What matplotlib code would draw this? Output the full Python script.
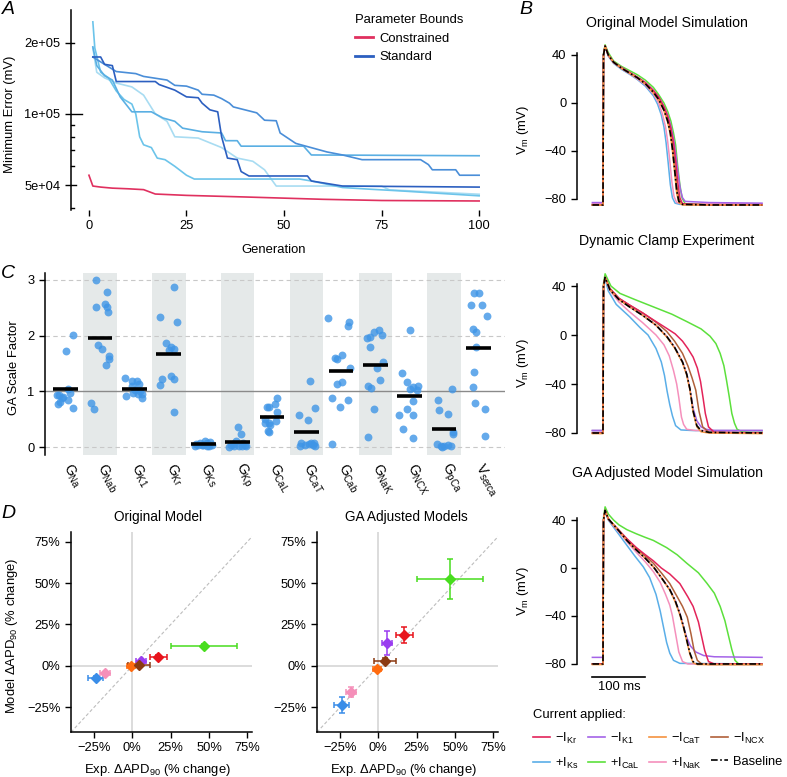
import matplotlib
matplotlib.use('Agg')
import numpy as np
import matplotlib.pyplot as plt
from matplotlib.lines import Line2D

plt.rcParams['font.family'] = ['Liberation Sans', 'DejaVu Sans']
plt.rcParams['mathtext.fontset'] = 'custom'
plt.rcParams['mathtext.rm'] = 'Liberation Sans'
plt.rcParams['mathtext.it'] = 'Liberation Sans:italic'
plt.rcParams['mathtext.bf'] = 'Liberation Sans:bold'
plt.rcParams['axes.linewidth'] = 1.1

# ---------------- Panel A: GA convergence ----------------
gen_con = [0, 1, 3, 6, 10, 14, 17, 25, 40, 50, 60, 75, 100]
err_con = [5.5e4, 4.95e4, 4.9e4, 4.85e4, 4.82e4, 4.78e4, 4.58e4, 4.52e4, 4.45e4, 4.4e4, 4.35e4, 4.3e4, 4.28e4]

gen_std1 = [1, 2, 4, 6, 8, 11, 16, 19, 22, 24, 29, 34, 35, 38, 39, 55, 57, 100]
err_std1 = [1.92e5, 1.6e5, 1.45e5, 1.39e5, 1.18e5, 1.02e5, 1.02e5, 9.6e4, 9.3e4, 8.7e4, 8.4e4, 8.3e4,
            7.7e4, 7.7e4, 7.3e4, 7.3e4, 6.7e4, 6.65e4]
gen_std2 = [1, 4, 7, 12, 14, 20, 22, 25, 28, 29, 32, 34, 36, 37, 43, 45, 48, 49, 53, 61, 65, 70, 85,
            87, 88, 94, 95, 100]
err_std2 = [1.74e5, 1.62e5, 1.51e5, 1.48e5, 1.44e5, 1.39e5, 1.32e5, 1.31e5, 1.26e5, 1.21e5, 1.2e5,
            1.16e5, 1.11e5, 1.07e5, 1.01e5, 9.4e4, 9.35e4, 8.3e4, 7.5e4, 6.9e4, 6.7e4, 6.4e4, 6.4e4,
            6.1e4, 5.8e4, 5.8e4, 5.5e4, 5.5e4]
gen_std3 = [1, 3, 4, 6, 7, 17, 18, 22, 25, 28, 29, 31, 33, 34, 35.5, 38, 39, 41, 56, 57, 65, 100]
err_std3 = [1.74e5, 1.74e5, 1.62e5, 1.6e5, 1.37e5, 1.37e5, 1.33e5, 1.26e5, 1.18e5, 1.17e5, 1.11e5,
            1.04e5, 1.02e5, 8.0e4, 6.5e4, 6.4e4, 5.7e4, 5.46e4, 5.46e4, 5.2e4, 4.95e4, 4.9e4]
gen_std4 = [1, 1.5, 3, 5, 7, 9, 11, 12, 13, 14, 16, 17.5, 19.5, 22, 25, 27, 54, 57, 65, 72, 80, 100]
err_std4 = [2.45e5, 1.9e5, 1.5e5, 1.42e5, 1.25e5, 1.15e5, 1.1e5, 1.0e5, 8.0e4, 7.4e4, 7.2e4, 6.5e4,
            6.4e4, 6.0e4, 5.5e4, 5.3e4, 5.3e4, 5.2e4, 4.88e4, 4.8e4, 4.72e4, 4.5e4]
gen_std5 = [1, 2, 4, 7, 11, 14, 17, 20, 22, 28, 34, 38, 42, 45, 46, 48, 75, 77, 100]
err_std5 = [1.9e5, 1.5e5, 1.42e5, 1.35e5, 1.3e5, 1.2e5, 1.0e5, 9.3e4, 8.0e4, 7.9e4, 7.2e4, 6.5e4,
            6.3e4, 5.8e4, 5.5e4, 4.95e4, 4.95e4, 4.77e4, 4.57e4]

# ---------------- Panel B: action potentials ----------------
# Original model simulation
t_o_base = [-20, 0, 1, 4, 10, 20, 35, 50, 65, 80, 95, 105, 115, 122, 127, 131, 135, 139, 143, 150, 200, 300]
v_o_base = [-85, -85, 40, 47.5, 40, 34, 29, 25, 21, 16, 9, 3, -6, -15, -25, -38, -55, -73, -82, -84.5, -85, -85]
t_o_cat = [-20, 0, 1, 4, 10, 20, 35, 50, 65, 80, 95, 105, 115, 122, 127, 131, 135, 139, 143, 150, 200, 300]
v_o_cat = [-85, -85, 40, 47.5, 40, 34, 29, 25, 21, 16, 8.5, 2.5, -6.5, -16, -26, -40, -57, -75, -83, -85, -85, -85]
t_o_cal = [-20, 0, 1, 4, 10, 20, 35, 50, 65, 80, 95, 105, 115, 122, 128, 133, 137, 141, 145, 149, 155, 200, 300]
v_o_cal = [-85, -85, 41, 48.5, 42, 35, 30.5, 27, 23.5, 19, 13, 7, 0, -7, -15, -25, -35, -53, -68, -79, -84, -85, -85]
t_o_ks = [-20, 0, 1, 4, 10, 20, 35, 50, 65, 80, 95, 103, 110, 115, 119, 123, 127, 131, 136, 145, 200, 300]
v_o_ks = [-85, -85, 40, 47, 39, 33, 28, 24, 19.5, 14, 6, -1, -10, -20, -33, -50, -68, -79, -83.5, -84.5, -85, -85]
t_o_nak = [-20, 0, 1, 4, 10, 20, 35, 50, 65, 80, 95, 105, 112, 118, 122, 126, 130, 134, 139, 148, 200, 300]
v_o_nak = [-84, -84, 40, 47, 39.5, 33.5, 28.5, 24.5, 20, 15, 7.5, 0, -9, -20, -32, -48, -66, -78, -83, -84, -84, -84]
t_o_kr = [-20, 0, 1, 4, 10, 20, 35, 50, 65, 80, 95, 105, 115, 122, 128, 133, 137, 141, 145, 150, 200, 300]
v_o_kr = [-85, -85, 40, 47.5, 40, 34, 29.5, 25.5, 21.5, 17, 10.5, 5, -3, -11, -21, -33, -48, -66, -79, -84, -85, -85]
t_o_k1 = [-20, 0, 1, 4, 10, 20, 35, 50, 65, 80, 95, 105, 115, 122, 128, 134, 138, 142, 146, 150, 155, 200, 300]
v_o_k1 = [-83, -83, 40, 47.5, 40, 34, 29.5, 25.5, 21.5, 17, 10.5, 5, -3, -10, -19, -32, -45, -60, -72, -79, -82, -83, -83.5]
t_o_ncx = [-20, 0, 1, 4, 10, 20, 35, 50, 65, 80, 95, 105, 115, 122, 128, 132, 136, 140, 144, 150, 200, 300]
v_o_ncx = [-85, -85, 40, 47.5, 40, 34, 29, 25, 21, 16, 9.5, 3.5, -5, -14, -24, -37, -54, -72, -81, -84.5, -85, -85]

# Dynamic clamp experiment
t_d_base = [-20, 0, 1, 4, 13, 30, 50, 75, 100, 120, 135, 150, 158, 164, 170, 177, 185, 200, 300]
v_d_base = [-80, -80, 40, 47, 37, 29, 23, 16, 8, -1, -10, -22, -32, -44, -62, -74, -78, -79.5, -80]
t_d_cat = [-20, 0, 1, 4, 13, 30, 50, 75, 100, 120, 135, 150, 158, 164, 170, 177, 185, 200, 300]
v_d_cat = [-80.5, -80.5, 40, 47, 37, 29, 23, 16, 8, -1.5, -10.5, -22.5, -33, -45, -63, -75, -79, -80, -80.5]
t_d_k1 = [-20, 0, 1, 4, 13, 30, 50, 75, 100, 120, 135, 150, 158, 164, 170, 177, 185, 195, 210, 300]
v_d_k1 = [-78, -78, 40, 47, 37, 29, 23, 16, 8, -1, -10, -22, -32, -44, -60, -70, -75, -77, -78, -78]
t_d_ncx = [-20, 0, 1, 4, 13, 30, 50, 75, 100, 120, 135, 150, 160, 168, 175, 181, 188, 200, 300]
v_d_ncx = [-80, -80, 40, 47, 38, 30, 24.5, 18, 10.5, 3, -5, -15, -25, -35, -45, -62, -75, -79.5, -80]
t_d_kr = [-20, 0, 1, 4, 13, 30, 50, 75, 100, 120, 136, 150, 160, 170, 178, 184, 189, 193, 199, 210, 300]
v_d_kr = [-80, -80, 40, 47, 38, 30, 24.5, 18, 11, 5.5, 1, -5, -11, -18, -27, -38, -52, -64, -75, -79.5, -80]
t_d_ks = [-20, 0, 1, 4, 10, 25, 50, 70, 85, 100, 110, 116, 121, 126, 131, 137, 147, 170, 300]
v_d_ks = [-78, -78, 40, 46, 36, 25, 15, 6, 0, -11, -22, -33, -46, -57, -66, -74, -77.5, -78, -78]
t_d_nak = [-20, 0, 1, 4, 12, 30, 50, 75, 100, 115, 125, 133, 139, 143, 148, 152, 158, 175, 300]
v_d_nak = [-78, -78, 40, 47, 37, 27, 19, 10, 0, -8, -17, -29, -40, -51, -67, -73, -77, -78, -78]
t_d_cal = [-20, 0, 1, 4, 15, 32, 60, 95, 130, 158, 185, 202, 213, 221, 228, 233, 238, 243, 248, 253,
           262, 280, 300]
v_d_cal = [-80, -80, 42, 50, 40, 34, 29, 23, 17, 11, 5, -1, -7, -15, -25, -37, -50, -64, -72, -77,
           -79, -79.5, -79.5]

# GA adjusted model simulation
t_g_base = [-20, 0, 1, 4, 10, 20, 30, 45, 63, 80, 95, 110, 126, 136, 145, 152, 158, 164, 170, 178, 190, 300]
v_g_base = [-80, -80, 40, 48, 41, 36, 31, 23, 15, 8, 1, -8, -18, -27, -38, -49, -60, -71, -78, -80, -80, -80]
t_g_cat = [-20, 0, 1, 4, 10, 20, 30, 45, 63, 80, 95, 110, 126, 136, 145, 152, 158, 164, 170, 178, 190, 300]
v_g_cat = [-80.5, -80.5, 40, 48, 41, 36, 31, 23, 15, 8, 1, -8, -18.5, -28, -39, -50, -61, -72, -79, -80.5, -80.5, -80.5]
t_g_ncx = [-20, 0, 1, 4, 10, 20, 30, 45, 63, 80, 95, 110, 126, 140, 150, 159, 166, 172, 178, 186, 200, 300]
v_g_ncx = [-80, -80, 40, 48, 41, 36, 31.5, 24, 16.5, 10, 4, -4, -13, -24, -32, -41, -55, -69, -77, -80, -80.5, -80.5]
t_g_kr = [-20, 0, 1, 4, 10, 20, 30, 45, 63, 80, 95, 110, 126, 145, 160, 170, 180, 186, 192, 199, 210, 300]
v_g_kr = [-80, -80, 40, 48, 41, 36, 31.5, 24.5, 17, 11, 6, 0, -5, -13, -24, -32, -45, -57, -69, -78, -80, -80]
t_g_k1 = [-20, 0, 1, 4, 10, 20, 30, 45, 63, 80, 95, 110, 126, 136, 145, 152, 158, 165, 175, 190, 210, 300]
v_g_k1 = [-74.5, -74.5, 40, 48, 41, 36, 31, 23, 15, 8, 1, -8, -18, -27, -38, -49, -58, -65, -70, -73, -74, -74.5]
t_g_ks = [-20, 0, 1, 4, 10, 20, 30, 45, 60, 76, 88, 100, 108, 114, 120, 126, 133, 145, 300]
v_g_ks = [-80, -80, 40, 47, 40, 34, 28, 19, 10, 1, -8, -22, -36, -49, -62, -71, -77, -79.5, -80]
t_g_nak = [-20, 0, 1, 4, 10, 20, 30, 45, 63, 80, 95, 108, 118, 126, 131, 137, 143, 150, 160, 300]
v_g_nak = [-80, -80, 40, 47.5, 40.5, 35, 30, 22, 13, 5, -3, -12, -22, -31, -40, -55, -70, -78, -80, -80]
t_g_cal = [-20, 0, 1, 4, 10, 20, 30, 45, 63, 80, 95, 120, 140, 158, 180, 196, 210, 221, 230, 237, 243,
           249, 256, 300]
v_g_cal = [-80, -80, 42, 51, 45, 40, 36, 32, 28.5, 25.5, 23, 17, 11, 4, -4, -12.7, -21, -32, -44, -57,
           -68, -77, -80, -80]

# ---------------- Panel C: GA scale factors ----------------
c_names = ['Na', 'Nab', 'K1', 'Kr', 'Ks', 'Kp', 'CaL', 'CaT', 'Cab', 'NaK', 'NCX', 'pCa', 'serca']
c_vals = [
    [2.02, 1.73, 1.04, 0.97, 0.94, 0.91, 0.88, 0.84, 0.82, 0.78, 0.71, 0.93],
    [2.99, 2.78, 2.57, 2.52, 2.51, 2.42, 1.83, 1.77, 1.64, 1.58, 1.47, 0.79, 0.69],
    [1.24, 1.18, 1.18, 1.13, 1.09, 1.03, 1.0, 0.97, 0.96, 0.95, 0.92, 0.89],
    [2.87, 2.34, 2.25, 1.87, 1.8, 1.77, 1.75, 1.27, 1.23, 1.22, 1.11, 0.64],
    [0.12, 0.1, 0.08, 0.07, 0.06, 0.05, 0.05, 0.04, 0.04, 0.03, 0.03, 0.02],
    [0.36, 0.23, 0.12, 0.08, 0.06, 0.05, 0.04, 0.03, 0.03, 0.02, 0.02, 0.01],
    [0.89, 0.78, 0.73, 0.72, 0.63, 0.5, 0.47, 0.44, 0.43, 0.4, 0.3, 0.27],
    [1.19, 0.7, 0.57, 0.49, 0.08, 0.08, 0.07, 0.06, 0.05, 0.04, 0.03, 0.02],
    [2.32, 2.25, 2.17, 1.65, 1.6, 1.58, 1.43, 1.17, 1.14, 0.88, 0.85, 0.73, 0.06],
    [2.1, 2.07, 2.02, 1.97, 1.95, 1.8, 1.53, 1.43, 1.21, 1.1, 1.07, 0.68, 0.18],
    [2.1, 1.33, 1.17, 1.1, 1.08, 1.05, 1.03, 0.83, 0.68, 0.57, 0.57, 0.32, 0.17],
    [1.05, 0.84, 0.67, 0.6, 0.28, 0.23, 0.06, 0.04, 0.03, 0.02, 0.02, 0.01],
    [2.77, 2.77, 2.55, 2.55, 2.36, 2.12, 2.06, 1.8, 1.35, 1.08, 0.8, 0.68, 0.2],
]
c_jitter = [
    [0.2, 0.0, 0.08, 0.13, -0.26, -0.07, -0.12, 0.08, -0.17, -0.21, 0.2, -0.2],
    [-0.12, 0.19, 0.15, -0.13, 0.21, 0.23, -0.05, 0.05, 0.27, 0.25, 0.17, -0.27, -0.19],
    [-0.27, -0.08, 0.07, 0.12, -0.08, 0.02, 0.17, -0.03, 0.09, 0.21, -0.24, 0.21],
    [0.14, -0.25, 0.23, -0.08, 0.06, 0.14, -0.01, 0.06, -0.2, 0.16, -0.25, 0.14],
    [0.05, 0.2, -0.1, 0.12, -0.22, 0.0, -0.15, 0.25, -0.05, 0.1, -0.25, 0.18],
    [0.0, 0.09, -0.05, 0.15, -0.15, 0.22, -0.2, 0.05, 0.25, -0.1, 0.12, -0.25],
    [0.14, 0.09, -0.16, -0.08, 0.14, -0.2, 0.1, -0.22, -0.1, -0.05, -0.12, -0.08],
    [0.1, 0.25, -0.23, 0.03, 0.22, 0.14, -0.15, 0.06, -0.05, 0.2, -0.2, 0.25],
    [-0.38, 0.25, 0.22, 0.03, -0.17, -0.1, 0.27, 0.03, -0.12, -0.26, 0.2, -0.04, -0.26],
    [0.1, -0.05, 0.19, -0.14, -0.25, -0.16, 0.22, 0.06, 0.14, -0.22, -0.12, -0.03, -0.2],
    [0.02, -0.23, -0.08, 0.25, 0.1, 0.0, 0.2, 0.1, -0.08, -0.3, 0.1, -0.2, 0.1],
    [0.24, -0.18, -0.15, 0.1, 0.26, 0.25, -0.2, 0.1, -0.1, 0.0, 0.2, -0.05],
    [-0.13, 0.0, -0.22, 0.1, 0.26, -0.17, -0.08, -0.08, -0.12, -0.17, -0.1, 0.19, 0.2],
]

# ---------------- Panel D: APD90 changes ----------------
d_keys = ['Kr', 'K1', 'CaT', 'NCX', 'Ks', 'CaL', 'NaK']
exp_x = [17, 5.8, -0.8, 4.2, -24, 47, -18]
exp_xerr = [5.5, 3.3, 2.6, 7, 4.7, 21.5, 3.2]
orig_y = [5.5, 3.0, 0.0, 0.4, -7.1, 12.2, -4.5]
orig_yerr = [1.0, 0.8, 0.5, 0.5, 1.2, 1.0, 1.0]
ga_y = [18.6, 13.8, -1.6, 3.0, -23.7, 52.5, -15.8]
ga_yerr = [4.7, 7.3, 0.8, 1.5, 5.0, 12.0, 2.8]

line_col = {'Kr': '#E3245A', 'K1': '#A463E8', 'CaT': '#F5923F', 'NCX': '#B0603A',
            'Ks': '#5AAEE8', 'CaL': '#5CE03C', 'NaK': '#F590BC'}
pt_col = {'Kr': '#E8141C', 'K1': '#9A3CF0', 'CaT': '#FF6B0F', 'NCX': '#8B3A12',
          'Ks': '#3A8DE8', 'CaL': '#48DD1E', 'NaK': '#F58FB9'}
leg_lab = {'Kr': r'$-\mathrm{I_{Kr}}$', 'K1': r'$-\mathrm{I_{K1}}$', 'CaT': r'$-\mathrm{I_{CaT}}$',
           'NCX': r'$-\mathrm{I_{NCX}}$', 'Ks': r'$+\mathrm{I_{Ks}}$', 'CaL': r'$+\mathrm{I_{CaL}}$',
           'NaK': r'$+\mathrm{I_{NaK}}$'}

W, H = 787, 777


def box(l, t, r, b):
    return [l / W, 1 - b / H, (r - l) / W, (b - t) / H]


fig = plt.figure(figsize=(W / 100, H / 100), dpi=100)
TICK = 9.3
LAB = 9.4
TITLE = 10.2

# ---------- A ----------
axA = fig.add_axes(box(71, 10, 485, 210))
red_c = '#E0305F'
axA.plot(gen_std5, err_std5, color='#A8DCF2', lw=1.2)
axA.plot(gen_std4, err_std4, color='#6CC4EA', lw=1.2)
axA.plot(gen_std1, err_std1, color='#5AAFE3', lw=1.2)
axA.plot(gen_std2, err_std2, color='#4A8ED8', lw=1.2)
axA.plot(gen_std3, err_std3, color='#2C5FC0', lw=1.2)
axA.plot(gen_con, err_con, color=red_c, lw=1.2)
axA.set_yscale('log')
axA.set_ylim(3.92e4, 2.75e5)
axA.set_xlim(-4.6, 101.5)
axA.set_yticks([5e4, 1e5, 2e5])
axA.set_yticklabels(['5e+04', '1e+05', '2e+05'])
axA.yaxis.set_minor_locator(matplotlib.ticker.NullLocator())
axA.set_xticks([0, 25, 50, 75, 100])
for s in ['top', 'right', 'bottom']:
    axA.spines[s].set_visible(False)
axA.tick_params(labelsize=TICK, length=4, width=1)
# log ticks drawn inside the axis
for val, ln in [(4e4, 3), (6e4, 3), (7e4, 3), (8e4, 3), (9e4, 3), (5e4, 5), (1e5, 11), (2e5, 3)]:
    axA.plot([0, ln / 414], [val, val], transform=axA.get_yaxis_transform(), color='black',
             lw=1, clip_on=False)
axA.set_ylabel('Minimum Error (mV)', fontsize=LAB)
axA.yaxis.set_label_coords(-0.133, 0.48)
axA.set_xlabel('Generation', fontsize=LAB)
axA.xaxis.set_label_coords(0.49, -0.17)
hA = [Line2D([], [], color=red_c, lw=2), Line2D([], [], color='#2C5FC0', lw=2)]
axA.legend(hA, ['Constrained', 'Standard'], title='Parameter Bounds', loc='upper left',
           bbox_to_anchor=(355 / W, 1 - 14 / H), bbox_transform=fig.transFigure, frameon=False,
           fontsize=LAB, title_fontsize=LAB, alignment='left', handlelength=1.4,
           handletextpad=0.5, labelspacing=0.5, borderpad=0, borderaxespad=0)

# ---------- B ----------
b_boxes = [box(577, 40, 770, 210), box(577, 270, 770, 445), box(577, 500, 770, 672)]
b_titles = ['Original Model Simulation', 'Dynamic Clamp Experiment', 'GA Adjusted Model Simulation']
b_title_y = [23, 241, 473]
b_traces = [
    [('Ks', t_o_ks, v_o_ks), ('NaK', t_o_nak, v_o_nak), ('CaL', t_o_cal, v_o_cal),
     ('K1', t_o_k1, v_o_k1), ('NCX', t_o_ncx, v_o_ncx), ('Kr', t_o_kr, v_o_kr),
     ('CaT', t_o_cat, v_o_cat), ('base', t_o_base, v_o_base)],
    [('Ks', t_d_ks, v_d_ks), ('NaK', t_d_nak, v_d_nak), ('CaL', t_d_cal, v_d_cal),
     ('K1', t_d_k1, v_d_k1), ('NCX', t_d_ncx, v_d_ncx), ('Kr', t_d_kr, v_d_kr),
     ('CaT', t_d_cat, v_d_cat), ('base', t_d_base, v_d_base)],
    [('Ks', t_g_ks, v_g_ks), ('NaK', t_g_nak, v_g_nak), ('CaL', t_g_cal, v_g_cal),
     ('K1', t_g_k1, v_g_k1), ('NCX', t_g_ncx, v_g_ncx), ('Kr', t_g_kr, v_g_kr),
     ('CaT', t_g_cat, v_g_cat), ('base', t_g_base, v_g_base)],
]
b_ylims = [(-89.2, 52.5), (-89.8, 53.1), (-86.7, 56.7)]
axB = []
for i in range(3):
    ax = fig.add_axes(b_boxes[i])
    for key, t, v in b_traces[i]:
        if key == 'base':
            ax.plot(t, v, color='black', lw=1.2, dashes=(4, 1.5, 1, 1.5))
        else:
            ax.plot(t, v, color=line_col[key], lw=1.1)
    ax.set_xlim(-49, 315)
    ax.set_ylim(*b_ylims[i])
    ax.set_yticks([-80, -40, 0, 40])
    ax.set_xticks([])
    for s in ['top', 'right', 'bottom']:
        ax.spines[s].set_visible(False)
    ax.spines['left'].set_bounds(-80, 41.5)
    ax.tick_params(labelsize=TICK, length=4, width=1)
    ax.set_ylabel(r'$\mathrm{V_m}$ (mV)', fontsize=LAB)
    ax.yaxis.set_label_coords(-0.238, 0.47)
    fig.text(667 / W, 1 - b_title_y[i] / H, b_titles[i], ha='center', va='center', fontsize=TITLE)
    axB.append(ax)
axB[2].plot([-20, 80], [-91, -91], color='black', lw=1.2, clip_on=False)
axB[2].text(30, -94, '100 ms', ha='center', va='top', fontsize=LAB)

# legend for currents
leg_order = ['Kr', 'Ks', 'K1', 'CaL', 'CaT', 'NaK', 'NCX', 'base']
hB, lB = [], []
for k in leg_order:
    if k == 'base':
        hB.append(Line2D([], [], color='black', lw=1.2, dashes=(4, 1.5, 1, 1.5)))
        lB.append('Baseline')
    else:
        hB.append(Line2D([], [], color=line_col[k], lw=1.2))
        lB.append(leg_lab[k])
fig.legend(hB, lB, title='Current applied:', loc='upper left', ncol=4,
           bbox_to_anchor=(533 / W, 1 - 709 / H), frameon=False, fontsize=9.3, title_fontsize=9.4,
           alignment='left', handlelength=1.3, handletextpad=0.4, columnspacing=0.75,
           labelspacing=0.75, borderpad=0, borderaxespad=0)

# ---------- C ----------
axC = fig.add_axes(box(45, 272.7, 505, 455))
n_c = len(c_names)
for i in range(n_c):
    if i % 2 == 1:
        axC.axvspan(i + 1 - 0.485, i + 1 + 0.485, color='#E5E9E9', lw=0, zorder=0)
for yv in [0, 2, 3]:
    axC.axhline(yv, color='#C8C8C8', lw=0.8, ls=(0, (4, 3)), zorder=1)
axC.axhline(1, color='#8A8A8A', lw=1.0, zorder=1)
for i in range(n_c):
    xs = [i + 1 + j for j in c_jitter[i]]
    axC.scatter(xs, c_vals[i], s=32, color='#3F95E6', alpha=0.8, lw=0, zorder=3)
    axC.plot([i + 1 - 0.36, i + 1 + 0.36], [np.mean(c_vals[i])] * 2, color='black', lw=2.6,
             solid_capstyle='butt', zorder=4)
axC.set_xlim(0.4, 13.77)
axC.set_ylim(-0.138, 3.129)
axC.set_yticks([0, 1, 2, 3])
axC.set_xticks(range(1, n_c + 1))
c_ticklabels = [r'$\mathrm{G_{%s}}$' % n for n in c_names[:-1]] + [r'$\mathrm{V_{serca}}$']
axC.set_xticklabels(c_ticklabels, rotation=-60, ha='left', va='center', rotation_mode='anchor',
                    fontsize=10)
axC.tick_params(axis='x', length=0, pad=7)
axC.tick_params(axis='y', labelsize=TICK, length=4, width=1)
for s in ['top', 'right', 'bottom']:
    axC.spines[s].set_visible(False)
axC.set_ylabel('GA Scale Factor', fontsize=LAB)
axC.yaxis.set_label_coords(-0.054, 0.48)

# ---------- D ----------
d_boxes = [box(71, 531.7, 252, 731.7), box(317, 531.7, 498, 731.7)]
d_titles = ['Original Model', 'GA Adjusted Models']
d_title_x = [158, 406]
d_y = [orig_y, ga_y]
d_yerr = [orig_yerr, ga_yerr]
pct = ['\u221225%', '0%', '25%', '50%', '75%']
for p in range(2):
    ax = fig.add_axes(d_boxes[p])
    ax.axhline(0, color='#D2D2D2', lw=1.1, zorder=0)
    ax.axvline(0, color='#D2D2D2', lw=1.1, zorder=0)
    ax.plot([-40, 80], [-40, 80], color='#BDBDBD', lw=0.8, ls=(0, (3, 2)), zorder=0)
    for k in range(len(d_keys)):
        c = pt_col[d_keys[k]]
        ax.errorbar(exp_x[k], d_y[p][k], xerr=exp_xerr[k], yerr=d_yerr[p][k], fmt='D', color=c,
                    ms=5.5, mec=c, elinewidth=1.1, capsize=2.5, capthick=1.1, zorder=3)
    ax.set_xlim(-40, 78)
    ax.set_ylim(-39.7, 81)
    ax.set_xticks([-25, 0, 25, 50, 75])
    ax.set_xticklabels(pct)
    ax.set_yticks([-25, 0, 25, 50, 75])
    ax.set_yticklabels(pct)
    for s in ['top', 'right']:
        ax.spines[s].set_visible(False)
    ax.tick_params(labelsize=TICK, length=4, width=1)
    ax.set_xlabel(r'Exp. $\Delta\mathrm{APD_{90}}$ (% change)', fontsize=LAB)
    ax.xaxis.set_label_coords(0.48, -0.15)
    fig.text(d_title_x[p] / W, 1 - 517 / H, d_titles[p], ha='center', va='center', fontsize=9.8)
    if p == 0:
        ax.set_ylabel(r'Model $\Delta\mathrm{APD_{90}}$ (% change)', fontsize=LAB)
        ax.yaxis.set_label_coords(-0.28, 0.48)

# panel letters
for letter, x, y in [('A', 8, 10), ('B', 526, 9), ('C', 8, 274), ('D', 8, 514)]:
    fig.text(x / W, 1 - y / H, letter, ha='center', va='center', fontsize=14, style='italic')

fig.savefig('out.png', dpi=100)
